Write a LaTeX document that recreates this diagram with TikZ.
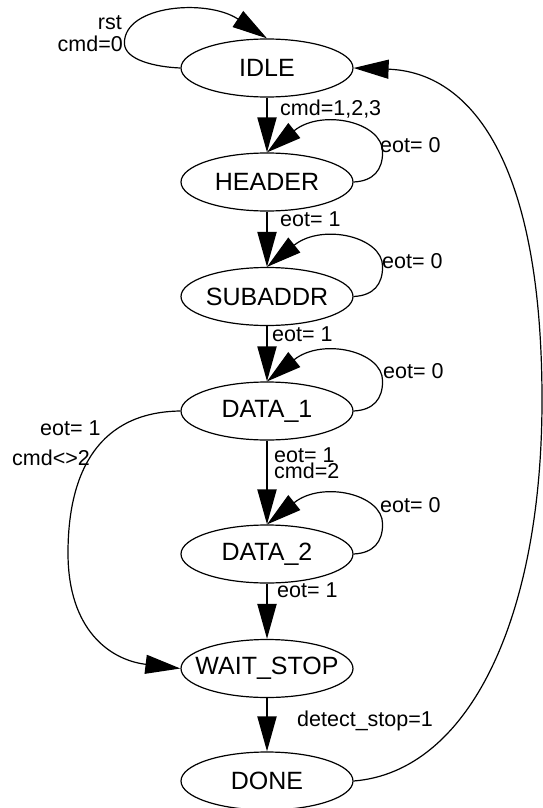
\documentclass[tikz,border=0pt]{standalone}
\usepackage{fontspec}
\setmainfont{Liberation Sans}
\usetikzlibrary{shapes.geometric,arrows.meta}
\begin{document}
\begin{tikzpicture}[x=1pt,y=-1pt,
  state/.style={ellipse, draw, line width=1.2pt, minimum width=172pt, minimum height=58pt,
    inner sep=0pt, font=\fontsize{25}{30}\selectfont},
  trans/.style={line width=2pt, -{Triangle[length=35pt,width=19pt]}},
  curve/.style={line width=1.2pt, -{Triangle[length=35pt,width=19pt]}},
  lbl/.style={inner sep=0pt, font=\fontsize{21.5}{16}\selectfont}]
\useasboundingbox (0,0) rectangle (543,808);
% states
\node[state] (I)  at (267,68)    {\makebox[0pt]{IDLE}};
\node[state] (H)  at (267,182)   {\makebox[0pt]{HEADER}};
\node[state] (S)  at (267,296.5) {\makebox[0pt]{SUBADDR}};
\node[state] (D1) at (267,411)   {\makebox[0pt]{DATA\_1}};
\node[state] (D2) at (267,554)   {\makebox[0pt]{DATA\_2}};
\node[state] (W)  at (267,668.5) {\makebox[0pt]{WAIT\_STOP}};
\node[state] (DN) at (267,781)   {\makebox[0pt]{DONE}};
% straight transitions
\draw[trans] (I.south)  -- (H.north);
\draw[trans] (H.south)  -- (S.north);
\draw[trans] (S.south)  -- (D1.north);
\draw[trans] (D1.south) -- (D2.north);
\draw[trans] (D2.south) -- (W.north);
\draw[trans] (W.south)  -- (DN.north);
% self loops
\draw[curve] (I.west) .. controls +(-25,-1) and +(0,17) .. ++(-56,-25)
  .. controls +(0,-38) and +(-60,-40) .. (I.north);
\foreach \n in {H,S,D1,D2}{
  \draw[curve] (\n.east) .. controls +(20,-1) and +(0,18) .. ++(29,-30)
    .. controls +(0,-30) and +(55,-44) .. (\n.north);
}
% long transitions
\draw[curve] (D1.west) .. controls (100,412) and (68,470) .. (68,553)
  .. controls (68,630) and (110,660) .. (W.west);
\draw[curve] (DN.east) .. controls (468,772) and (542,620) .. (542,400)
  .. controls (542,160) and (470,72) .. (I.east);
% labels
\node[lbl, anchor=base east] (l1) at (122,30) {rst};
\node[lbl, anchor=base east] (l2) at (123,52) {cmd=0};
\node[lbl, anchor=base west] (l3) at (280,115) {cmd=1,2,3};
\node[lbl, anchor=base west] (l4) at (380,152) {eot= 0};
\node[lbl, anchor=base west] (l5) at (280,226) {eot= 1};
\node[lbl, anchor=base west] (l6) at (382,268) {eot= 0};
\node[lbl, anchor=base west] (l7) at (272,341) {eot= 1};
\node[lbl, anchor=base west] (l8) at (383,378) {eot= 0};
\node[lbl, anchor=base west, align=left, font=\fontsize{21.5}{16.5}\selectfont] (l9) at (274,478.5) {eot= 1\\cmd=2};
\node[lbl, anchor=base west] (l11) at (380,512) {eot= 0};
\node[lbl, anchor=base west] (l12) at (277,597) {eot= 1};
\node[lbl, anchor=base west] (l13) at (297,726) {detect\_stop=1};
\node[lbl, anchor=base west] (l14) at (40,435) {eot= 1};
\node[lbl, anchor=base west] (l15) at (12,465) {cmd<>2};
\end{tikzpicture}
\end{document}
